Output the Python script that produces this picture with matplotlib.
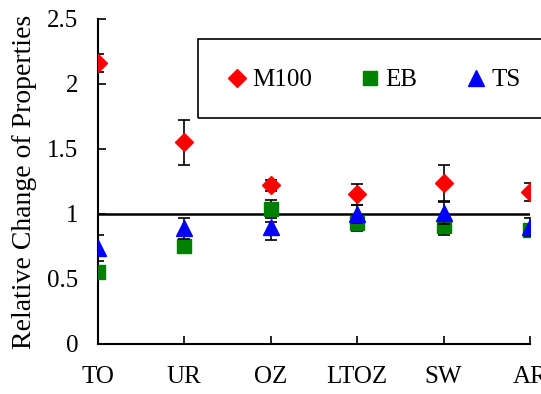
import matplotlib.pyplot as plt
import numpy as np
from matplotlib.patches import Rectangle

categories = ["TO", "UR", "OZ", "LTOZ", "SW", "AR"]

m100 = [2.16, 1.55, 1.22, 1.15, 1.235, 1.17]
m100_err = [0.07, 0.17, 0.04, 0.08, 0.14, 0.07]

eb = [0.55, 0.755, 1.035, 0.93, 0.905, 0.88]
eb_err = [0.03, 0.03, 0.07, 0.06, 0.065, 0.03]

ts = [0.74, 0.89, 0.90, 1.00, 1.01, 0.90]
ts_err_lo = [0.10, 0.08, 0.10, 0.07, 0.09, 0.07]
ts_err_hi = [0.10, 0.08, 0.04, 0.07, 0.09, 0.07]

ref_level = 1.0

plt.rcParams["font.family"] = ["Liberation Serif", "DejaVu Serif"]

W, H = 541, 394
fig = plt.figure(figsize=(W / 100, H / 100), dpi=100)
ax = fig.add_axes([0.181, 0.127, 0.7985, 0.825])

x = np.arange(len(categories))
ek = dict(ecolor="black", elinewidth=1.2, capsize=4.5, capthick=1.2, linestyle="none")

ax.errorbar(x, eb, yerr=eb_err, marker="s", ms=10.5, color="#008000", mec="#008000",
            label="EB", zorder=3, **ek)
ax.errorbar(x, ts, yerr=[ts_err_lo, ts_err_hi], marker="^", ms=11.5, color="#0000ff",
            mec="#0000ff", label="TS", zorder=4, **ek)
ax.errorbar(x, m100, yerr=m100_err, marker="D", ms=9.5, color="#ff0000", mec="#ff0000",
            label="M100", zorder=5, **ek)

ax.plot([x[0], x[-1]], [ref_level, ref_level], color="black", lw=1.8, zorder=2)

ax.set_xlim(0, len(categories) - 1)
ax.set_ylim(0, 2.5)
ax.set_xticks(x)
ax.set_xticklabels(categories)
ax.set_yticks([0, 0.5, 1, 1.5, 2, 2.5])
ax.set_yticklabels(["0", "0.5", "1", "1.5", "2", "2.5"])
ax.tick_params(direction="in", length=6, width=1.2, labelsize=18)
ax.tick_params(axis="y", pad=14)
ax.tick_params(axis="x", pad=16)
for side in ("top", "right"):
    ax.spines[side].set_visible(False)
for side in ("left", "bottom"):
    ax.spines[side].set_linewidth(1.5)
    ax.spines[side].set_clip_on(False)

ax.set_ylabel("Relative Change of Properties", fontsize=20)
ax.yaxis.set_label_coords(-0.14, 0.5)

# legend: frame drawn separately, runs off the right edge like the original
fig.patches.append(Rectangle((198 / W, 1 - 118 / H), 360 / W, 79 / H,
                             transform=fig.transFigure, fill=False,
                             edgecolor="black", lw=1.2))
h, l = ax.get_legend_handles_labels()
order = [2, 0, 1]
h = [h[i][0] for i in order]
l = [l[i] for i in order]
fig.legend(h, l, ncol=3, loc="center left", bbox_to_anchor=(223 / W, 1 - 80 / H),
           frameon=False, fontsize=18, handletextpad=0.05, borderaxespad=0,
           borderpad=0, handlelength=1.1, columnspacing=1.8)

fig.savefig("out.png", dpi=100)
